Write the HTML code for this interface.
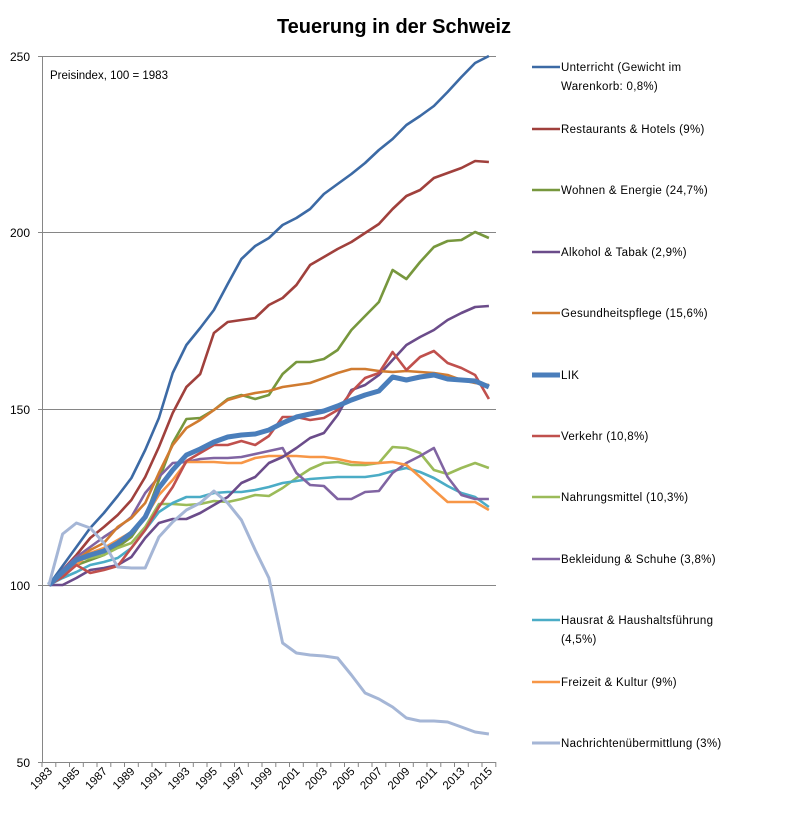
<!DOCTYPE html>
<html><head><meta charset="utf-8"><style>
body{margin:0;background:#fff;}
svg text{font-family:"Liberation Sans",sans-serif;}
</style></head><body>
<svg id="c" width="788" height="810" xmlns="http://www.w3.org/2000/svg">
<text x="394" y="33" text-anchor="middle" font-size="20" font-weight="bold" fill="#000">Teuerung in der Schweiz</text>
<g stroke="#868686" stroke-width="1">
<line x1="42" y1="56.5" x2="496" y2="56.5"/>
<line x1="42" y1="232.5" x2="496" y2="232.5"/>
<line x1="42" y1="409.5" x2="496" y2="409.5"/>
<line x1="42" y1="585.5" x2="496" y2="585.5"/>
<line x1="42" y1="762.5" x2="496" y2="762.5"/>
<line x1="42.5" y1="56" x2="42.5" y2="762"/>
<line x1="38" y1="56.5" x2="42" y2="56.5"/>
<line x1="38" y1="232.5" x2="42" y2="232.5"/>
<line x1="38" y1="409.5" x2="42" y2="409.5"/>
<line x1="38" y1="585.5" x2="42" y2="585.5"/>
<line x1="38" y1="762.5" x2="42" y2="762.5"/>
</g>
<g id="ticks" stroke="#868686" stroke-width="1"></g>
<g font-size="12" fill="#000" text-anchor="end">
<text x="30" y="61">250</text>
<text x="30" y="237">200</text>
<text x="30" y="414">150</text>
<text x="30" y="590">100</text>
<text x="30" y="767">50</text>
</g>
<text x="50" y="79" font-size="11.5" fill="#000">Preisindex, 100 = 1983</text>
<g id="xl" font-size="11.5" fill="#000"></g>
<g id="lines" fill="none" stroke-linejoin="round"></g>
<g id="leg" font-size="11.5" fill="#000" letter-spacing="0.3"></g>
</svg>
<script>
var S=[
["#3C6AA5",2.6,[585,566,547,528,513,496,478,450,418,373,345,328,310,284,259,246,238,225,218,209,194,184,174,163,150,139,125,116,106,92,77,63,56]],
["#A0403C",2.6,[585,570,555,538,527,515,500,477,447,413,387,374,333,322,320,318,305,298,285,265,257,249,242,233,224,209,196,190,178,173,168,161,162]],
["#77973D",2.6,[585,575,565,560,555,547,537,517,480,443,419,418,410,399,395,399,395,374,362,362,359,350,330,316,302,270,279,262,247,241,240,232,238]],
["#9BBB59",2.6,[585,572,560,558,555,548,543,527,504,504,505,504,501,502,499,495,496,488,478,469,463,462,465,465,463,447,448,453,470,474,468,463,468]],
["#4BACC6",2.6,[585,578,572,565,562,558,548,530,512,503,497,497,493,492,492,490,487,483,481,479,478,477,477,477,475,471,468,472,478,486,493,497,507]],
["#8064A2",2.6,[585,570,557,547,537,528,517,493,477,463,462,459,458,458,457,454,451,448,473,485,486,499,499,492,491,473,463,456,448,477,495,499,499]],
["#F79646",2.6,[585,574,565,553,548,540,532,517,495,480,462,462,462,463,463,458,456,456,456,457,457,459,462,463,463,462,465,477,490,502,502,502,510]],
["#6B4C8A",2.6,[585,585,578,570,568,565,557,538,523,519,519,513,505,497,483,477,463,457,448,438,433,415,390,385,375,360,345,337,330,320,313,307,306]],
["#D07B30",2.6,[585,572,560,550,543,527,518,503,473,445,428,420,410,400,396,393,391,387,385,383,378,373,369,369,371,372,371,372,373,375,380,383,385]],
["#C0504D",2.6,[585,577,565,573,570,566,548,530,507,487,461,453,445,445,441,445,436,417,417,420,418,410,392,378,373,352,370,357,351,363,368,375,399]],
["#4A7EBB",5,[585,572,560,555,551,543,533,517,488,470,455,449,442,437,435,434,430,423,417,414,411,406,400,395,391,377,380,377,375,379,380,381,387]],
["#A5B6D6",3,[585,534,523,528,543,567,568,568,537,522,510,503,491,503,520,550,578,643,653,655,656,658,675,693,699,707,718,721,721,722,727,732,734]]
];
var ns="http://www.w3.org/2000/svg";
function X(i){return 48.9+13.75*i;}
var g=document.getElementById("lines");
S.forEach(function(s){var p=document.createElementNS(ns,"polyline");
p.setAttribute("points",s[2].map(function(y,i){return X(i).toFixed(1)+","+y}).join(" "));
p.setAttribute("stroke",s[0]);p.setAttribute("stroke-width",s[1]);g.appendChild(p);});
var t=document.getElementById("ticks");
for(var i=0;i<=33;i++){var l=document.createElementNS(ns,"line");var x=(42+13.75*i).toFixed(1);
l.setAttribute("x1",x);l.setAttribute("x2",x);l.setAttribute("y1",762);l.setAttribute("y2",767);t.appendChild(l);}
var xl=document.getElementById("xl");
for(var i=0;i<=32;i+=2){var tx=document.createElementNS(ns,"text");var x=X(i)+4,y=772;
tx.setAttribute("x",x);tx.setAttribute("y",y);tx.setAttribute("text-anchor","end");
tx.setAttribute("transform","rotate(-45 "+x+" "+y+")");tx.textContent=1983+i;xl.appendChild(tx);}
var L=[["#3C6AA5",2.6,67,["Unterricht (Gewicht im","Warenkorb: 0,8%)"]],
["#A0403C",2.6,129,["Restaurants & Hotels (9%)"]],
["#77973D",2.6,190,["Wohnen & Energie (24,7%)"]],
["#6B4C8A",2.6,252,["Alkohol & Tabak (2,9%)"]],
["#D07B30",2.6,313,["Gesundheitspflege (15,6%)"]],
["#4A7EBB",5,375,["LIK"]],
["#C0504D",2.6,436,["Verkehr (10,8%)"]],
["#9BBB59",2.6,497,["Nahrungsmittel (10,3%)"]],
["#8064A2",2.6,559,["Bekleidung & Schuhe (3,8%)"]],
["#4BACC6",2.6,620,["Hausrat & Haushaltsführung","(4,5%)"]],
["#F79646",2.6,682,["Freizeit & Kultur (9%)"]],
["#A5B6D6",3,743,["Nachrichtenübermittlung (3%)"]]];
var lg=document.getElementById("leg");
L.forEach(function(e){var l=document.createElementNS(ns,"line");
l.setAttribute("x1",532);l.setAttribute("x2",560);l.setAttribute("y1",e[2]);l.setAttribute("y2",e[2]);
l.setAttribute("stroke",e[0]);l.setAttribute("stroke-width",e[1]);lg.appendChild(l);
e[3].forEach(function(s,k){var tx=document.createElementNS(ns,"text");tx.setAttribute("x",561);
tx.setAttribute("y",e[2]+4+k*19);tx.textContent=s;lg.appendChild(tx);});});
</script>
</body></html>
